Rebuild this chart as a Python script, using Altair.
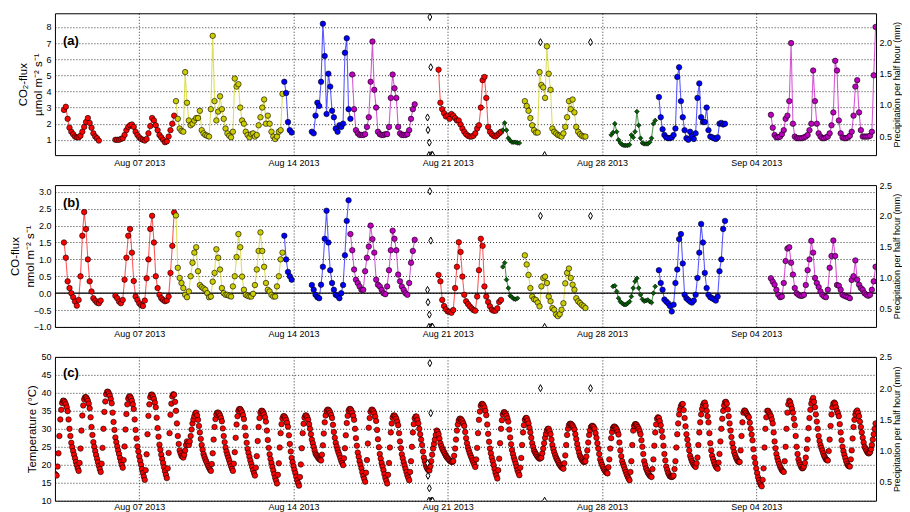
import altair as alt
import pandas as pd

STEP_HOURS = 2
FONT = "Liberation Sans"

SERIES = ["red", "yellow", "blue", "magenta", "green"]
SERIES_COLORS = ["#ff0000", "#cccc00", "#0000ff", "#bf00bf", "#006400"]

X_START = "2013-08-03 04:10"
X_END = "2013-09-09 10:30"
X_TICKS = ["2013-08-07", "2013-08-14", "2013-08-21", "2013-08-28", "2013-09-04"]

# ---------------- panel (a): CO2 flux (umol m-2 s-1), 2-hourly readings
a_red1 = [2.85, 3.05, 2.3, 1.75, 1.5, 1.35, 1.2, 1.15, 1.15, 1.25, 1.5, 1.8, 2.1, 2.35, 2.05, 1.75, 1.4, 1.2, 1.1, 0.95]
a_red2 = [1.0, 1.0, 1.0, 1.05, 1.1, 1.3, 1.6, 1.8, 1.9, 1.95, 1.8, 1.5, 1.3, 1.15, 1.05, 1.0, 0.95, 1.05, 1.4, 1.85,
          2.35, 2.2, 1.9, 1.6, 1.3, 1.15, 1.0, 0.85, 0.9, 1.2, 1.6, 2.0, 2.5]
a_yel1 = [3.4, 2.3, 1.7, 1.55, 1.5, 5.2, 3.3, 2.2, 1.9, 2.0, 2.2, 2.35, 2.35, 2.8, 1.6, 1.4, 1.3, 1.25, 1.2, 2.9,
          7.45, 3.4, 2.2, 2.75, 3.7, 2.9, 2.3, 1.7, 1.4, 1.25, 1.15, 1.5, 4.8, 4.3, 4.45, 3.0, 2.2, 2.0, 1.5, 1.3,
          1.15, 1.35, 1.4, 1.2, 1.3, 1.9, 2.4, 3.0, 3.5, 2.0, 2.5, 2.0, 1.5, 1.2, 1.05, 1.2, 1.5, 1.6, 3.85]
a_blu1 = [4.6, 3.9, 2.1, 1.6, 1.45]
a_blu2 = [1.5, 1.4, 2.5, 3.3, 3.1, 4.6, 8.2, 6.2, 2.6, 5.1, 4.3, 2.8, 2.4, 1.7, 1.5, 1.9, 1.8, 2.0, 6.4, 7.3, 2.9, 2.3]
a_mag1 = [5.05, 2.9, 1.6, 1.4, 1.3, 1.3, 1.3, 1.35, 1.8, 2.4, 4.6, 7.1, 4.1, 3.0, 1.5, 1.35, 1.3, 1.3, 1.35, 1.35,
          1.8, 3.6, 5.05, 4.2, 3.6, 1.8, 1.4, 1.3, 1.3, 1.3, 1.35, 1.6, 2.3, 2.9, 3.2]
a_red3 = [5.35, 3.3, 2.9, 2.65, 2.45, 2.5, 2.3, 2.6, 2.5, 2.35, 2.2, 2.2, 1.95, 1.7, 1.5, 1.35, 1.25, 1.2, 1.2, 1.25,
          1.4, 1.7, 1.9, 3.0, 4.7, 4.9, 3.6, 1.8, 1.5, 1.35, 1.25, 1.2, 1.3, 1.4, 1.5]
a_grn1 = [1.6, 2.05, 1.6, 1.1, 0.95, 0.85, 0.85, 0.85, 0.8, 0.8]
a_yel2 = [3.4, 3.1, 2.8, 2.35, 1.9, 1.6, 1.45, 1.45, 5.2, 4.4, 4.25, 3.6, 6.8, 5.1, 4.1, 1.7, 1.5, 1.4, 1.3, 1.25,
          1.2, 1.4, 1.8, 2.4, 3.4, 2.9, 3.5, 2.7, 1.8, 1.5, 1.35, 1.25, 1.2, 1.2]
a_grn2 = [1.3, 1.45, 2.0, 1.5, 1.0, 0.8, 0.7, 0.65, 0.65, 0.65, 0.7, 1.3, 1.15, 1.5, 2.75, 1.9, 1.1, 0.8, 0.75, 0.75,
          0.75, 0.85, 1.1, 2.0, 2.2]
a_blu3 = [3.65, 2.4, 1.65, 1.3, 1.15, 1.1, 1.1, 1.15, 1.3, 1.7, 4.9, 5.5, 3.4, 2.4, 1.6, 1.1, 1.0, 1.5, 1.2, 1.05,
          1.4, 3.6, 4.5, 2.4, 2.1, 2.1, 3.0, 1.6, 1.2, 1.15, 1.1, 1.05, 1.15, 2.0, 2.05, 1.95, 2.0]
a_mag2 = [2.55, 1.75, 1.3, 1.15, 1.15, 1.2, 1.35, 1.6, 2.3, 2.5, 3.4, 7.0, 2.0, 1.2, 1.1, 1.1, 1.1, 1.1, 1.15, 1.2,
          1.3, 1.6, 2.0, 5.3, 3.4, 2.0, 1.4, 1.2, 1.1, 1.1, 1.15, 1.2, 1.4, 1.9, 2.7, 5.9, 5.3, 2.2, 1.4, 1.15,
          1.1, 1.1, 1.15, 1.25, 1.5, 2.5, 4.3, 4.7, 2.7, 1.6, 1.2, 1.2, 1.2, 1.2, 1.25, 1.5, 5.0, 8.0]

a_segments = [
    ("red", "2013-08-03 14:00", a_red1),
    ("red", "2013-08-05 22:00", a_red2),
    ("yellow", "2013-08-08 16:00", a_yel1),
    ("blue", "2013-08-13 14:00", a_blu1),
    ("blue", "2013-08-14 20:00", a_blu2),
    ("magenta", "2013-08-16 16:00", a_mag1),
    ("red", "2013-08-20 14:00", a_red3),
    ("green", "2013-08-23 12:00", a_grn1),
    ("yellow", "2013-08-24 12:00", a_yel2),
    ("green", "2013-08-28 10:00", a_grn2),
    ("blue", "2013-08-30 14:00", a_blu3),
    ("magenta", "2013-09-04 16:00", a_mag2),
]

# ---------------- panel (b): CO flux (nmol m-2 s-1), 2-hourly readings
b_red1 = [1.5, 1.05, 0.35, 0.15, 0.0, -0.12, -0.25, -0.37, -0.2, 0.5, 1.7, 2.4, 1.9, 1.0, 0.35, 0.05, -0.15, -0.22,
          -0.28, -0.3, -0.22]
b_red2 = [-0.08, -0.15, -0.25, -0.3, -0.2, 0.4, 1.05, 1.7, 1.9, 1.2, 0.36, -0.1, -0.2, -0.3, -0.36, -0.38, -0.22, 0.44,
          1.0, 1.9, 2.29, 1.5, 0.5, 0.15, -0.05, -0.15, -0.2, -0.24, -0.22, -0.1, 0.6, 1.4, 2.39]
b_yel1 = [2.3, 0.75, 0.45, 0.3, 0.15, -0.05, -0.12, 0.05, 0.5, 0.9, 1.2, 1.36, 0.65, 0.24, 0.18, 0.14, 0.1, 0.0, -0.12,
          -0.1, 0.34, 0.6, 1.3, 1.05, 0.7, 0.15, 0.0, -0.05, -0.05, -0.08, -0.1, 0.2, 0.5, 1.07, 1.75, 1.36, 0.49,
          0.1, -0.05, -0.08, -0.1, -0.1, -0.02, 0.24, 0.7, 1.25, 1.8, 1.25, 0.78, 0.3, 0.1, 0.05, -0.05, -0.1, -0.1,
          0.2, 0.5, 1.0, 1.2]
b_blu1 = [1.7, 1.0, 0.63, 0.5, 0.4]
b_blu2 = [0.24, 0.1, -0.05, -0.12, -0.15, 0.25, 0.78, 1.61, 2.44, 1.5, 0.68, 0.3, 0.1, -0.05, -0.08, -0.15, 0.0, 0.24,
          1.12, 2.14, 2.75]
b_mag1 = [1.75, 1.27, 0.7, 0.4, 0.3, 0.2, 0.1, 0.1, 0.65, 1.05, 1.38, 2.0, 1.6, 1.2, 0.4, 0.25, 0.2, 0.1, 0.0, -0.03,
          0.2, 0.68, 1.27, 1.85, 1.61, 1.27, 0.55, 0.35, 0.2, 0.1, 0.0, -0.05, 0.3, 0.9, 1.25, 1.58]
b_red3 = [0.54, 0.35, -0.2, -0.38, -0.48, -0.54, -0.55, -0.58, -0.5, 0.15, 0.78, 1.51, 1.22, 0.49, -0.05, -0.24, -0.32,
          -0.39, -0.45, -0.5, -0.52, -0.1, 0.68, 1.61, 1.4, 0.2, -0.1, -0.26, -0.39, -0.49, -0.52, -0.52, -0.45,
          -0.26, -0.2]
b_grn1 = [0.78, 0.9, 0.4, 0.15, -0.08, -0.12, -0.17, -0.18, -0.15]
b_yel2 = [1.12, 0.85, 0.54, 0.15, -0.1, -0.18, -0.2, -0.28, -0.39, 0.2, 0.45, 0.49, 0.3, -0.1, -0.24, -0.44, -0.49,
          -0.63, -0.68, -0.62, -0.49, -0.3, 0.29, 0.6, 0.73, 0.45, 0.25, 0.1, -0.15, -0.24, -0.29, -0.35, -0.39, -0.44]
b_grn2 = [0.2, 0.22, 0.05, -0.15, -0.25, -0.3, -0.34, -0.34, -0.3, -0.25, -0.1, 0.15, 0.35, 0.44, 0.15, -0.05, -0.18,
          -0.24, -0.22, -0.2, -0.25, -0.28, 0.0, 0.2]
b_blu3 = [0.68, 0.3, 0.1, -0.19, -0.25, -0.3, -0.38, -0.54, -0.34, 0.3, 0.7, 1.6, 1.75, 0.88, -0.05, -0.15, -0.2, -0.25,
          -0.28, -0.22, -0.05, 0.45, 1.2, 2.05, 1.5, 0.6, 0.15, -0.05, -0.12, -0.15, -0.18, -0.22, -0.1, 0.65, 1.0,
          1.9, 2.14]
b_mag2 = [0.44, 0.34, 0.25, 0.1, -0.05, -0.12, -0.1, 0.3, 0.95, 1.32, 1.36, 0.9, 0.55, 0.15, 0.0, -0.05, -0.08, -0.08,
          -0.05, 0.24, 0.68, 1.0, 1.55, 1.2, 0.45, 0.3, 0.18, 0.05, -0.05, -0.1, -0.12, 0.1, 0.75, 1.1, 1.56, 1.1,
          0.24, 0.22, 0.1, -0.05, -0.08, -0.1, -0.12, -0.15, 0.39, 0.5, 0.97, 0.4, 0.25, 0.15, 0.1, 0.0, -0.05,
          -0.08, -0.05, 0.1, 0.35, 0.78]

b_segments = [
    ("red", "2013-08-03 14:00", b_red1),
    ("red", "2013-08-05 22:00", b_red2),
    ("yellow", "2013-08-08 16:00", b_yel1),
    ("blue", "2013-08-13 14:00", b_blu1),
    ("blue", "2013-08-14 20:00", b_blu2),
    ("magenta", "2013-08-16 14:00", b_mag1),
    ("red", "2013-08-20 14:00", b_red3),
    ("green", "2013-08-23 12:00", b_grn1),
    ("yellow", "2013-08-24 12:00", b_yel2),
    ("green", "2013-08-28 12:00", b_grn2),
    ("blue", "2013-08-30 14:00", b_blu3),
    ("magenta", "2013-09-04 16:00", b_mag2),
]

# ---------------- panel (c): air temperature, one row per day, hourly 00..23 h
temp_start = "2013-08-03"
temp_rows = [
    [None, None, None, None, 17.5, 17.2, 17.0, 19.5, 23.2, 28.0, 32.6, 35.3, 37.2, 37.8, 37.8, 37.4, 36.8, 36.0, 34.9, 32.6, 30.0, 28.0, 26.1, 24.9],
    [23.8, 22.8, 21.8, 20.8, 19.9, 19.0, 18.3, 20.5, 24.5, 29.5, 33.7, 36.5, 38.2, 38.8, 38.8, 38.4, 37.8, 37.0, 35.7, 33.2, 30.5, 28.3, 26.3, 25.0],
    [23.8, 22.7, 21.7, 20.7, 19.7, 18.8, 18.0, 20.3, 24.7, 30.0, 34.7, 37.6, 39.6, 40.3, 40.3, 39.8, 39.2, 38.3, 37.1, 34.5, 31.9, 29.7, 27.6, 26.3],
    [25.1, 24.0, 23.0, 21.9, 20.9, 20.0, 19.2, 21.3, 25.1, 29.8, 34.1, 36.8, 38.4, 39.0, 39.0, 38.5, 37.8, 36.8, 35.5, 32.6, 29.7, 27.3, 25.1, 23.7],
    [22.3, 21.1, 20.0, 18.8, 17.7, 16.7, 15.8, 18.5, 22.9, 28.5, 33.6, 36.8, 38.8, 39.5, 39.5, 39.0, 38.3, 37.3, 36.0, 33.1, 30.2, 27.8, 25.6, 24.2],
    [22.8, 21.6, 20.5, 19.3, 18.2, 17.2, 16.3, 19.0, 23.3, 28.8, 33.9, 37.0, 39.0, 39.6, 39.5, 37.5, 35.0, 31.5, 28.0, 25.8, 24.0, 23.2, 22.5, 22.2],
    [22.0, 22.8, 24.0, 25.5, 26.5, 26.0, 25.5, 26.5, 28.0, 29.8, 31.5, 32.6, 33.5, 34.3, 34.5, 33.7, 32.5, 30.8, 29.0, 27.2, 25.5, 24.2, 23.0, 22.2],
    [21.5, 20.9, 20.3, 19.7, 19.2, 18.7, 18.3, 20.2, 23.2, 27.0, 30.5, 32.7, 34.0, 34.5, 34.5, 34.2, 33.7, 33.0, 32.1, 30.1, 28.0, 26.3, 24.8, 23.7],
    [22.8, 22.0, 21.2, 20.4, 19.6, 18.9, 18.3, 20.3, 23.5, 27.5, 31.2, 33.5, 35.0, 35.5, 35.5, 35.1, 34.6, 33.8, 32.7, 30.4, 28.1, 26.1, 24.4, 23.3],
    [22.2, 21.2, 20.3, 19.4, 18.5, 17.7, 17.0, 19.2, 22.4, 26.6, 30.5, 33.0, 34.5, 35.0, 35.0, 34.6, 34.0, 33.2, 32.0, 29.5, 26.9, 24.7, 22.9, 21.6],
    [20.5, 19.4, 18.4, 17.4, 16.4, 15.6, 14.8, 17.2, 20.4, 24.8, 28.8, 31.3, 32.9, 33.5, 33.5, 33.1, 32.5, 31.7, 30.6, 28.2, 25.8, 23.7, 21.9, 20.7],
    [19.6, 18.6, 17.7, 16.7, 15.7, 14.9, 14.2, 16.6, 20.1, 24.6, 28.8, 31.4, 33.1, 33.7, 33.7, 33.2, 32.5, 31.3, 30.0, 28.5, 27.0, 26.0, 25.0, 24.0],
    [23.1, 22.7, 22.3, 21.9, 21.6, 21.4, 21.2, 22.8, 25.4, 28.7, 31.8, 33.7, 34.9, 35.3, 35.3, 35.0, 34.5, 33.8, 33.0, 31.1, 29.1, 27.5, 26.1, 25.1],
    [24.2, 23.4, 22.7, 21.9, 21.1, 20.5, 19.9, 21.8, 24.6, 28.2, 31.6, 33.6, 35.0, 35.5, 35.5, 35.1, 34.5, 33.6, 32.5, 30.0, 27.4, 25.3, 23.4, 22.2],
    [21.0, 20.0, 19.0, 17.9, 16.9, 16.1, 15.3, 17.8, 21.3, 25.9, 30.3, 33.0, 34.7, 35.3, 35.3, 34.9, 34.3, 33.4, 32.2, 29.7, 27.1, 24.9, 23.0, 21.7],
    [20.5, 19.5, 18.5, 17.4, 16.4, 15.6, 14.8, 17.2, 20.5, 24.8, 29.0, 31.5, 33.1, 33.7, 33.7, 33.3, 32.8, 32.0, 31.0, 28.8, 26.5, 24.6, 22.9, 21.8],
    [20.7, 19.8, 18.9, 18.0, 17.1, 16.4, 15.7, 18.0, 21.0, 25.0, 29.0, 31.3, 32.9, 33.4, 33.4, 32.5, 31.5, 30.0, 28.5, 27.0, 25.5, 23.7, 22.0, 21.0],
    [20.0, 19.3, 18.8, 18.5, 18.4, 19.5, 21.0, 22.8, 24.5, 25.8, 27.0, 28.3, 29.5, 29.2, 28.5, 27.3, 26.0, 25.2, 24.5, 24.0, 23.5, 23.0, 22.5, 22.1],
    [21.8, 21.5, 21.2, 21.0, 20.8, 20.8, 21.0, 22.5, 24.5, 27.0, 29.5, 31.2, 32.3, 32.8, 32.8, 32.5, 32.1, 31.5, 30.8, 29.1, 27.4, 26.0, 24.8, 24.0],
    [23.2, 22.5, 21.9, 21.2, 20.6, 20.0, 19.4, 21.5, 24.7, 28.8, 32.5, 34.8, 36.4, 36.9, 36.9, 36.5, 35.9, 35.0, 33.8, 31.2, 28.6, 26.4, 24.5, 23.2],
    [22.0, 21.0, 19.9, 18.8, 17.8, 17.0, 16.2, 18.5, 21.7, 26.0, 30.0, 32.4, 34.0, 34.6, 34.6, 34.2, 33.7, 32.9, 32.0, 29.8, 27.6, 25.7, 24.1, 23.0],
    [22.0, 21.2, 20.3, 19.4, 18.5, 17.8, 17.1, 19.2, 21.9, 25.5, 29.0, 31.0, 32.5, 33.0, 33.0, 32.3, 31.5, 30.3, 29.0, 27.5, 26.0, 25.0, 24.0, 23.5],
    [23.0, 22.6, 22.2, 21.9, 21.7, 21.8, 22.0, 23.2, 24.5, 26.0, 27.5, 28.6, 29.5, 30.0, 30.0, 29.3, 28.5, 27.0, 25.5, 24.4, 23.5, 22.7, 22.0, 21.5],
    [21.0, 20.5, 20.0, 19.6, 19.3, 19.1, 18.9, 20.4, 22.6, 25.5, 28.3, 30.0, 31.0, 31.4, 31.4, 31.2, 30.9, 30.4, 29.8, 28.5, 27.2, 25.8, 24.5, 23.4],
    [22.5, 22.0, 21.5, 21.1, 20.8, 20.8, 21.0, 22.3, 24.0, 26.2, 28.3, 29.6, 30.5, 30.8, 30.8, 30.5, 30.0, 28.8, 27.5, 26.0, 24.5, 23.0, 21.5, 20.7],
    [20.0, 19.4, 18.8, 18.4, 18.0, 17.8, 17.6, 19.3, 21.5, 24.5, 27.4, 29.1, 30.2, 30.6, 30.6, 30.3, 29.9, 29.2, 28.4, 26.2, 24.0, 22.4, 21.0, 20.2],
    [19.5, 18.7, 18.0, 17.3, 16.7, 16.2, 15.7, 18.0, 21.0, 25.5, 29.5, 30.8, 31.3, 31.3, 31.0, 30.5, 30.0, 29.3, 28.5, 26.8, 25.0, 23.0, 21.0, 20.0],
    [19.0, 18.4, 17.8, 17.4, 17.0, 16.8, 16.6, 18.8, 21.5, 25.3, 29.0, 31.2, 32.8, 33.2, 33.0, 32.1, 31.0, 29.4, 27.7, 25.3, 23.0, 21.2, 19.5, 18.6],
    [17.8, 17.3, 16.8, 16.7, 16.6, 16.7, 17.0, 18.8, 21.0, 24.8, 28.5, 31.5, 34.0, 35.4, 36.3, 36.8, 36.9, 35.2, 33.0, 30.7, 28.5, 27.0, 25.5, 24.0],
    [22.5, 21.7, 21.0, 20.5, 20.0, 19.7, 19.4, 20.4, 22.0, 25.5, 29.0, 31.8, 34.0, 35.5, 36.5, 37.1, 37.3, 36.4, 35.0, 33.5, 31.8, 28.8, 26.0, 24.0],
    [22.5, 21.6, 20.8, 20.1, 19.5, 19.2, 18.9, 20.6, 23.0, 26.5, 30.0, 32.8, 35.0, 36.5, 37.4, 37.5, 37.0, 35.4, 33.5, 31.5, 29.5, 27.7, 26.0, 24.7],
    [23.5, 22.7, 22.0, 21.5, 21.0, 20.8, 20.8, 24.0, 28.0, 31.8, 34.5, 35.1, 35.0, 34.5, 34.0, 33.6, 33.2, 31.7, 30.0, 28.4, 26.8, 24.3, 22.0, 20.5],
    [19.0, 17.7, 16.5, 15.7, 15.0, 14.4, 14.0, 15.8, 19.0, 24.8, 30.0, 33.2, 35.0, 35.0, 34.5, 34.0, 33.5, 32.6, 31.5, 29.0, 26.5, 24.6, 23.0, 21.9],
    [21.0, 20.2, 19.5, 19.0, 18.5, 18.2, 18.0, 21.0, 25.0, 30.0, 34.5, 36.8, 37.8, 37.4, 36.5, 35.6, 34.5, 32.8, 31.0, 28.0, 25.0, 23.0, 21.5, 20.6],
    [20.0, 19.4, 19.0, 19.1, 19.5, 20.5, 22.0, 24.4, 27.0, 30.2, 33.0, 35.3, 37.0, 38.0, 38.6, 37.5, 36.0, 34.0, 32.0, 30.0, 28.0, 26.6, 25.5, 24.7],
    [24.0, 23.2, 22.5, 22.0, 21.5, 21.3, 21.2, 23.8, 27.0, 30.8, 34.0, 36.0, 37.0, 37.3, 37.0, 36.0, 35.0, 34.3, 33.5, 31.3, 29.0, 26.8, 25.0, 23.8],
    [22.8, 21.9, 21.0, 20.3, 19.8, 19.6, 19.5, 21.5, 24.0, 27.3, 30.5, 32.5, 34.0, 34.8, 35.1, 34.4, 33.5, 32.0, 30.5, 29.0, 27.5, 26.2, 25.0, 24.5],
    [24.0, 23.5, 23.2, 23.2, 23.5, 24.3, 25.5, 27.0, 28.5, 30.0, 31.5],
]

# ---------------- precipitation (mm per half hour)
precip_time = ["2013-08-20 02:00", "2013-08-20 02:30", "2013-08-20 03:30", "2013-08-20 04:00",
               "2013-08-20 04:30", "2013-08-20 05:30", "2013-08-20 06:00", "2013-08-20 07:00",
               "2013-08-20 07:30", "2013-08-25 05:00", "2013-08-25 09:30", "2013-08-27 11:30"]
precip_mm = [0.8, 0.6, 0.2, 0.4, 2.4, 1.6, 0.2, 0.2, 0.2, 2.0, 0.2, 2.0]


def iso(ts):
    return ts.strftime("%Y-%m-%dT%H:%M:%S")


def seg_frame(segments, tag):
    rows = []
    for k, (series, start, vals) in enumerate(segments):
        t0 = pd.Timestamp(start)
        for i, v in enumerate(vals):
            rows.append({"t": iso(t0 + pd.Timedelta(hours=STEP_HOURS * i)), "v": v,
                         "series": series, "seg": f"{tag}{k}"})
    return pd.DataFrame(rows)


def temp_frame():
    rows = []
    d0 = pd.Timestamp(temp_start)
    for d, row in enumerate(temp_rows):
        for h, v in enumerate(row):
            if v is None:
                continue
            rows.append({"t": iso(d0 + pd.Timedelta(days=d, hours=h)), "v": v})
    return pd.DataFrame(rows)


def dt(s):
    ts = pd.Timestamp(s)
    return alt.DateTime(year=ts.year, month=ts.month, date=ts.day, hours=ts.hour, minutes=ts.minute)


df_a = seg_frame(a_segments, "a")
df_b = seg_frame(b_segments, "b")
df_c = temp_frame()
df_p = pd.DataFrame({"t": [iso(pd.Timestamp(s)) for s in precip_time], "p": precip_mm})

X_SCALE = alt.Scale(domain=[dt(X_START), dt(X_END)])
COLOR = alt.Color("series:N", scale=alt.Scale(domain=SERIES, range=SERIES_COLORS), legend=None)
DIAMOND = "M0,-1L0.55,0L0,1L-0.55,0Z"


def x_axis(pad):
    return alt.Axis(values=[dt(s) for s in X_TICKS], format="%b %d %Y", title=None,
                    grid=True, gridDash=[1, 2], gridColor="#000000", gridOpacity=0.8,
                    ticks=False, domain=False, labelFontSize=9, labelPadding=pad, labelFlush=False)


def panel(df, left_domain, left_ticks, left_fmt, left_title, title_x, right_domain, right_ticks,
          label, label_y, height, kind, xpad):
    X = alt.X("t:T", scale=X_SCALE, axis=x_axis(xpad))
    ys = alt.Scale(domain=left_domain, nice=False, zero=False)
    yax = alt.Axis(values=left_ticks, format=left_fmt, title=left_title, grid=True,
                   gridDash=[1, 2], gridColor="#000000", gridOpacity=0.8, ticks=False,
                   domain=False, labelFontSize=9, labelPadding=4, titleFontSize=11.5,
                   titleFontWeight="normal", titleX=title_x, titleBaseline="middle",
                   titleAngle=270, titleLineHeight=15)
    Y = alt.Y("v:Q", scale=ys, axis=yax)
    layers = []
    if kind == "temp":
        layers.append(alt.Chart(df).mark_circle(color="#ff0000", stroke="black", strokeWidth=0.6,
                                                size=30, opacity=1, clip=True).encode(x=X, y=Y))
    else:
        base = alt.Chart(df)
        layers.append(base.mark_line(strokeWidth=1.1, opacity=0.65, clip=True).encode(
            x=X, y=Y, color=COLOR, detail="seg:N"))
        if kind == "co":
            layers.append(alt.Chart(pd.DataFrame({"v": [0.0]})).mark_rule(
                color="black", strokeWidth=1.2).encode(y=Y))
        layers.append(base.transform_filter("datum.series != 'green'").mark_circle(
            stroke="black", strokeWidth=0.6, size=30, opacity=1, clip=True).encode(x=X, y=Y, color=COLOR))
        layers.append(base.transform_filter("datum.series == 'green'").mark_point(
            shape="diamond", filled=True, stroke="black", strokeWidth=0.6, size=22, opacity=1,
            clip=True).encode(x=X, y=Y, color=COLOR))
    layers.append(alt.Chart(pd.DataFrame({"s": [label]})).mark_text(
        align="left", baseline="middle", fontSize=13, fontWeight="bold", font=FONT, color="black"
    ).encode(x=alt.value(8), y=alt.value(label_y), text="s:N"))
    inner = alt.layer(*layers)

    rax = alt.Axis(orient="right", values=right_ticks, format=".1f", grid=False, ticks=False,
                   domain=False, labelFontSize=9, labelPadding=3,
                   title="Precipitation per half hour (mm)", titleAngle=270,
                   titleBaseline="middle", titleX=20.5, titleFontSize=9, titleFontWeight="normal")
    precip = alt.Chart(df_p).mark_point(
        shape=DIAMOND, filled=True, fill="white", stroke="black", strokeWidth=1, size=50,
        opacity=1, clip=True).encode(
        x=X, y=alt.Y("p:Q", scale=alt.Scale(domain=right_domain, nice=False, zero=False), axis=rax))
    return alt.layer(inner, precip).resolve_scale(y="independent").properties(width=822, height=height)


panel_a = panel(df_a, [0.05, 8.85], [1, 2, 3, 4, 5, 6, 7, 8], "d",
                ["CO\u2082-flux", "\u00b5mol m\u207b\u00b2 s\u207b\u00b9"], -31,
                [0.2, 2.46], [0.5, 1.0, 1.5, 2.0], "(a)", 28, 142, "co2", 3)
panel_b = panel(df_b, [-1.0, 3.2], [-1.0, -0.5, 0.0, 0.5, 1.0, 1.5, 2.0, 2.5, 3.0], ".1f",
                ["CO-flux", "nmol m\u207b\u00b2 s\u207b\u00b9"], -39.7,
                [0.2, 2.5], [0.5, 1.0, 1.5, 2.0, 2.5], "(b)", 18, 142, "co", 3)
panel_c = panel(df_c, [10, 50], [10, 15, 20, 25, 30, 35, 40, 45, 50], "d",
                "Temperature (\u00b0C)", -22,
                [0.2, 2.5], [0.5, 1.0, 1.5, 2.0, 2.5], "(c)", 16, 144, "temp", 2)

chart = alt.vconcat(panel_a, panel_b, panel_c, spacing=30, bounds="flush").properties(
    padding={"left": 0, "top": 4, "right": 0, "bottom": 0}
).configure_view(stroke="black", strokeWidth=1).configure_axis(
    labelFont=FONT, titleFont=FONT, labelColor="black", titleColor="black"
).configure_text(font=FONT)

chart.save("out.html", embed_options={"renderer": "svg", "actions": False})
